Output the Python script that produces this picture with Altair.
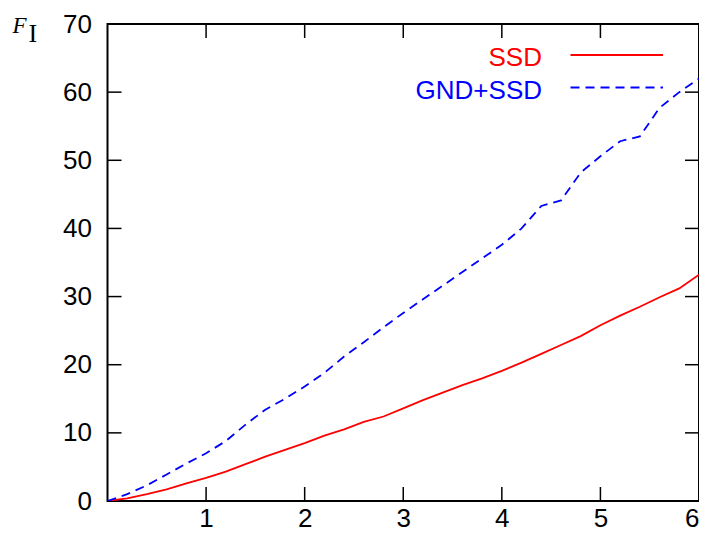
import altair as alt
import pandas as pd

# ---- data ----
x_vals = [0.0, 0.2, 0.4, 0.6, 0.8, 1.0, 1.2, 1.4, 1.6, 1.8, 2.0, 2.2, 2.4, 2.6, 2.8, 3.0,
          3.2, 3.4, 3.6, 3.8, 4.0, 4.2, 4.4, 4.6, 4.8, 5.0, 5.2, 5.4, 5.6, 5.8, 6.0]
ssd = [0.0, 0.4, 1.0, 1.7, 2.6, 3.4, 4.3, 5.4, 6.5, 7.5, 8.5, 9.6, 10.5, 11.6, 12.4, 13.6,
       14.8, 15.9, 17.0, 18.0, 19.1, 20.3, 21.6, 22.9, 24.2, 25.8, 27.2, 28.5, 29.9, 31.2, 33.2]
gnd_ssd = [0.0, 1.0, 2.3, 3.9, 5.5, 7.0, 8.8, 11.2, 13.4, 15.0, 16.8, 18.8, 21.2, 23.3, 25.5, 27.6,
           29.6, 31.6, 33.6, 35.6, 37.6, 40.0, 43.3, 44.1, 48.2, 50.6, 52.8, 53.5, 57.7, 60.0, 62.0]
series_names = ["SSD", "GND+SSD"]
series_colors = ["#ff0000", "#0000ff"]
x_tick_labels = [1, 2, 3, 4, 5, 6]
y_tick_labels = [0, 10, 20, 30, 40, 50, 60, 70]
x_inner_ticks = [1, 2, 3, 4, 5]
y_inner_ticks = [10, 20, 30, 40, 50, 60]

W, H = 591.5, 477
FONT = "Liberation Sans"
FS = 26

xscale = alt.Scale(domain=[0, 6], nice=False, zero=False)
yscale = alt.Scale(domain=[0, 70], nice=False, zero=False)

x_axis = alt.Axis(values=x_tick_labels, title=None, ticks=False, domain=False, grid=False,
                  labelFontSize=FS, labelFont=FONT, labelColor="black", labelPadding=4,
                  labelFlush=True, format="d")
y_axis = alt.Axis(values=y_tick_labels, title=None, ticks=False, domain=False, grid=False,
                  labelFontSize=FS, labelFont=FONT, labelColor="black", labelPadding=16,
                  labelFlush=False, format="d")

def X(field):
    return alt.X(field, scale=xscale, axis=x_axis)

def Y(field):
    return alt.Y(field, scale=yscale, axis=y_axis)

df_ssd = pd.DataFrame({"x": x_vals, "y": ssd})
df_gnd = pd.DataFrame({"x": x_vals, "y": gnd_ssd})

line_ssd = alt.Chart(df_ssd).mark_line(color=series_colors[0], strokeWidth=1.8, clip=True).encode(
    x=X("x:Q"), y=Y("y:Q"))
line_gnd = alt.Chart(df_gnd).mark_line(color=series_colors[1], strokeWidth=1.8,
                                       strokeDash=[9, 6], clip=True).encode(
    x=X("x:Q"), y=Y("y:Q"))

# inward ticks on all four sides
tx = pd.DataFrame({"v": x_inner_ticks})
ty = pd.DataFrame({"v": y_inner_ticks})
TL = 14
tick_bottom = alt.Chart(tx).mark_rule(color="black", strokeWidth=1.5).encode(
    x=X("v:Q"), y=alt.value(H), y2=alt.value(H - TL))
tick_top = alt.Chart(tx).mark_rule(color="black", strokeWidth=1.5).encode(
    x=X("v:Q"), y=alt.value(0), y2=alt.value(TL))
tick_left = alt.Chart(ty).mark_rule(color="black", strokeWidth=1.5).encode(
    y=Y("v:Q"), x=alt.value(0), x2=alt.value(TL))
tick_right = alt.Chart(ty).mark_rule(color="black", strokeWidth=1.5).encode(
    y=Y("v:Q"), x=alt.value(W - TL), x2=alt.value(W))

# legend (gnuplot style: label then sample)
leg_text_ssd = alt.Chart(pd.DataFrame({"t": [series_names[0]]})).mark_text(
    align="right", baseline="alphabetic", font=FONT, fontSize=FS, color=series_colors[0]).encode(
    text="t:N", x=alt.value(434.5), y=alt.value(42))
leg_text_gnd = alt.Chart(pd.DataFrame({"t": [series_names[1]]})).mark_text(
    align="right", baseline="alphabetic", font=FONT, fontSize=FS, color=series_colors[1]).encode(
    text="t:N", x=alt.value(434.5), y=alt.value(74.5))
leg_line_ssd = alt.Chart(pd.DataFrame({"t": [series_names[0]]})).mark_rule(
    color=series_colors[0], strokeWidth=1.8).encode(
    x=alt.value(463), x2=alt.value(555.5), y=alt.value(31))
leg_line_gnd = alt.Chart(pd.DataFrame({"t": [series_names[1]]})).mark_rule(
    color=series_colors[1], strokeWidth=1.8, strokeDash=[9, 6]).encode(
    x=alt.value(463), x2=alt.value(555.5), y=alt.value(63.5))

# y-axis label F_I
lab_F = alt.Chart(pd.DataFrame({"t": ["F"]})).mark_text(
    align="left", baseline="alphabetic", font="Liberation Serif", fontStyle="italic",
    fontSize=23, color="black").encode(text="t:N", x=alt.value(-95), y=alt.value(8.5))
lab_I = alt.Chart(pd.DataFrame({"t": ["I"]})).mark_text(
    align="left", baseline="alphabetic", font="Liberation Serif",
    fontSize=26, color="black").encode(text="t:N", x=alt.value(-79), y=alt.value(17.5))

chart = alt.layer(
    line_ssd, line_gnd, tick_bottom, tick_top, tick_left, tick_right,
    leg_text_ssd, leg_text_gnd, leg_line_ssd, leg_line_gnd, lab_F, lab_I,
).properties(
    width=W, height=H,
    autosize=alt.AutoSizeParams(type="none"),
    padding={"left": 99.5, "top": 16, "right": 0, "bottom": 30},
    background="white",
).configure_view(stroke="black", strokeWidth=2)

chart.save("out.html", embed_options={"renderer": "svg", "actions": False})
